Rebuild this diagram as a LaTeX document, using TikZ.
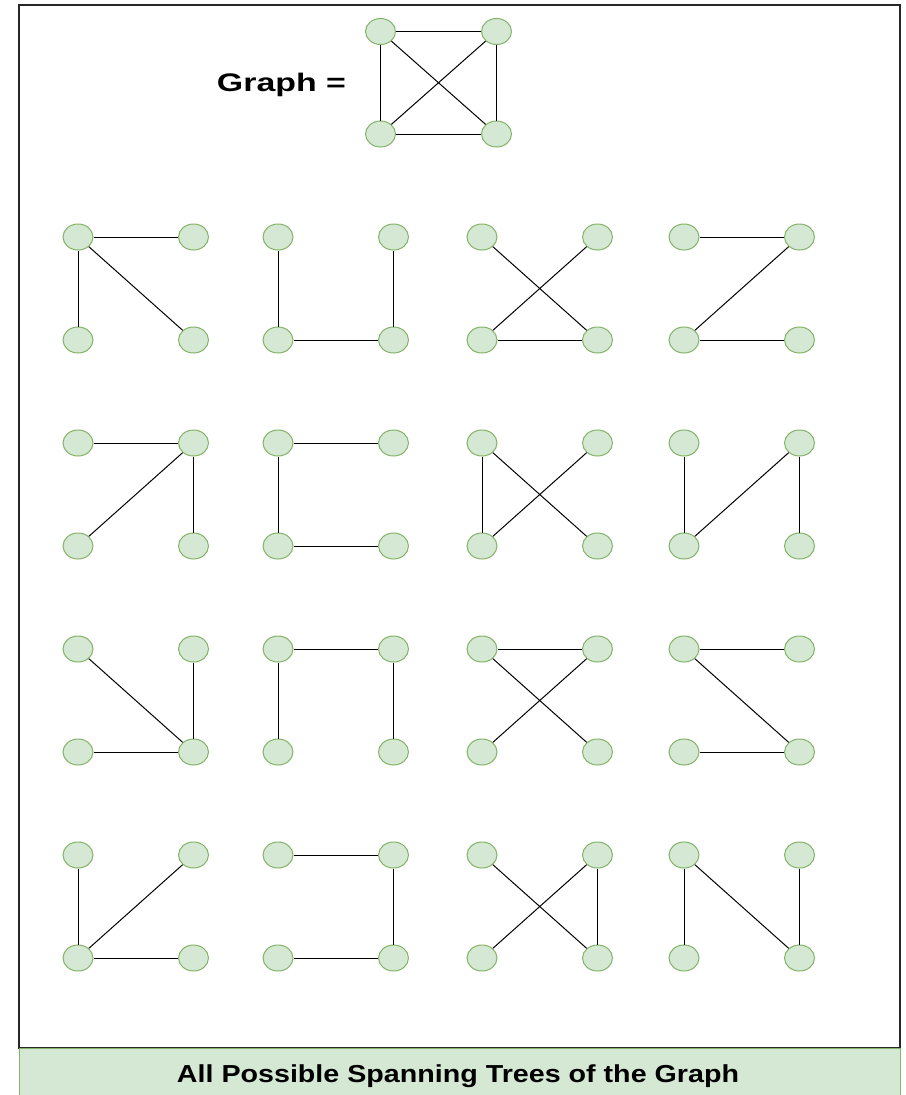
\documentclass[tikz,border=0pt]{standalone}
\usepackage{fontspec}
\usepackage{graphicx}
\setmainfont{Liberation Sans}
\usetikzlibrary{shapes.geometric}
\definecolor{vfill}{HTML}{D5E8D4}
\definecolor{vline}{HTML}{82B366}
\tikzset{
  vert/.style={ellipse, minimum width=30pt, minimum height=26pt, inner sep=0pt, fill=vfill, draw=vline, line width=1pt},
  edgeline/.style={draw=black, line width=1pt},
  frameline/.style={draw=black!85, line width=1.3pt},
  banner/.style={fill=vfill, draw=vline, line width=1pt}
}
\begin{document}
\begin{tikzpicture}[x=1pt,y=-1pt]
\useasboundingbox (0,0) rectangle (905,1095);
\fill[white] (0,0) rectangle (905,1095);
\draw[frameline] (19,5) rectangle (900,1048);
\draw[banner] (19,1048) rectangle (900,1097);
\node[anchor=base, inner sep=0pt] (cap) at (458,1082.5) {\resizebox{562pt}{17.8pt}{\bfseries All Possible Spanning Trees of the Graph}};
\node[anchor=base, inner sep=0pt] (gl) at (281.5,91.5) {\resizebox{129pt}{18.4pt}{\bfseries Graph =}};
% main graph
\node[vert] (ga) at (380.5,31.5) {};
\node[vert] (gb) at (496.5,31.5) {};
\node[vert] (gc) at (380.5,134) {};
\node[vert] (gd) at (496.5,134) {};
\foreach \u/\v in {a/b,a/c,a/d,b/c,b/d,c/d} \draw[edgeline] (g\u) -- (g\v);
% spanning trees
\foreach \n/\cx/\cy/\edges in {
  1/78/237/{a/b,a/c,a/d},
  2/278/237/{a/c,c/d,d/b},
  3/482/237/{a/d,b/c,c/d},
  4/684/237/{a/b,b/c,c/d},
  5/78/443/{a/b,b/c,b/d},
  6/278/443/{a/b,a/c,c/d},
  7/482/443/{a/c,a/d,b/c},
  8/684/443/{a/c,c/b,b/d},
  9/78/649/{a/d,c/d,b/d},
  10/278/649/{a/b,a/c,b/d},
  11/482/649/{a/b,a/d,b/c},
  12/684/649/{a/b,a/d,c/d},
  13/78/855/{a/c,c/b,c/d},
  14/278/855/{a/b,b/d,c/d},
  15/482/855/{a/d,c/b,b/d},
  16/684/855/{a/c,a/d,b/d}}{
  \node[vert] (t\n a) at (\cx,\cy) {};
  \node[vert] (t\n b) at (\cx+115.5,\cy) {};
  \node[vert] (t\n c) at (\cx,\cy+103) {};
  \node[vert] (t\n d) at (\cx+115.5,\cy+103) {};
  \foreach \u/\v in \edges \draw[edgeline] (t\n\u) -- (t\n\v);
}
\end{tikzpicture}
\end{document}
